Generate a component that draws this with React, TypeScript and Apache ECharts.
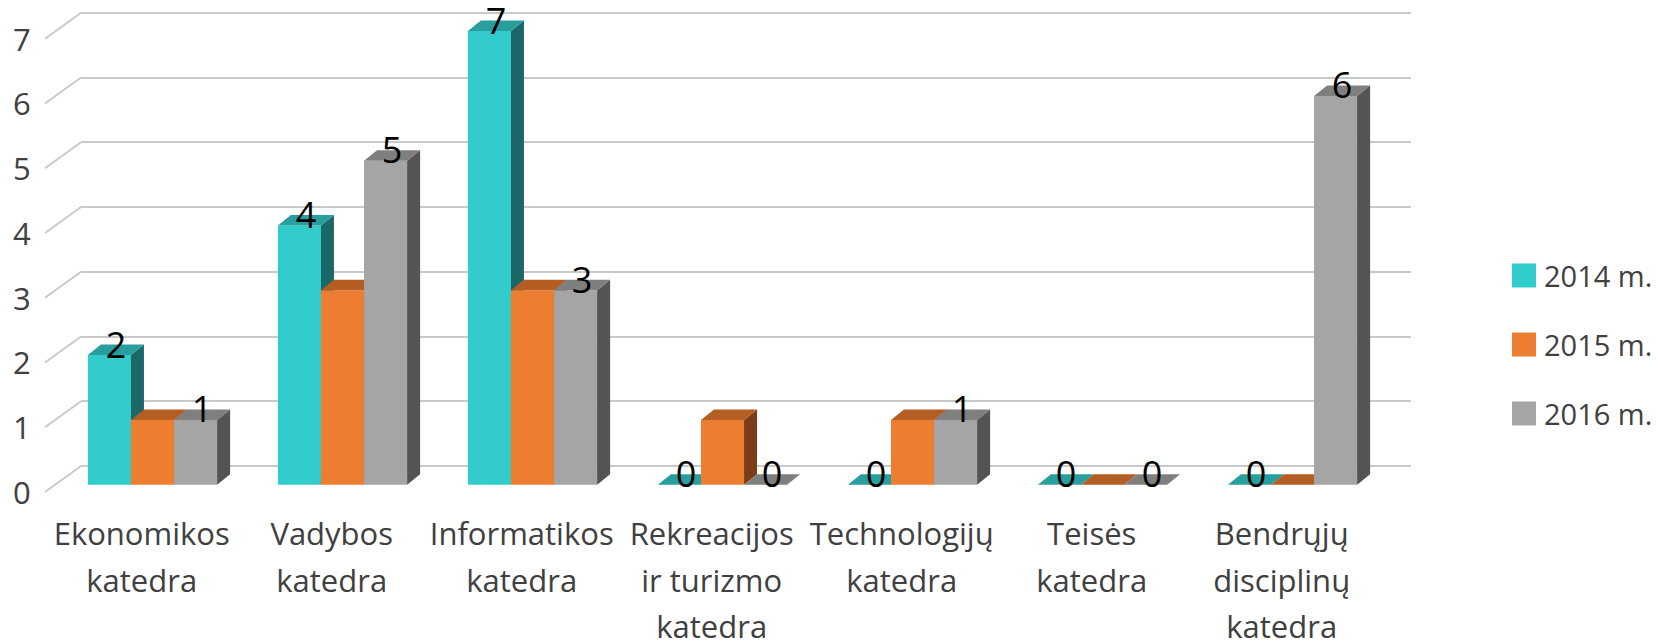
import React, { useEffect, useRef } from "react";
import * as echarts from "echarts";

const categories = [
  "Ekonomikos\nkatedra",
  "Vadybos\nkatedra",
  "Informatikos\nkatedra",
  "Rekreacijos\nir turizmo\nkatedra",
  "Technologijų\nkatedra",
  "Teisės\nkatedra",
  "Bendrųjų\ndisciplinų\nkatedra",
];
const seriesNames = ["2014 m.", "2015 m.", "2016 m."];
const values2014 = [2, 4, 7, 0, 0, 0, 0];
const values2015 = [1, 3, 3, 1, 1, 0, 0];
const values2016 = [1, 5, 3, 0, 1, 0, 6];
const tickValues = [0, 1, 2, 3, 4, 5, 6, 7];

const FONT = "'Open Sans', 'Noto Sans', sans-serif";
const TEXT_COLOR = "#404040";
const GRID_COLOR = "#C9C9C9";

// front, top, side colours per series
const palette = [
  { front: "#33CCCC", top: "#289E9E", side: "#1C6868" },
  { front: "#ED7D31", top: "#B45E23", side: "#7A3D17" },
  { front: "#A5A5A5", top: "#7F7F7F", side: "#545454" },
];
const showLabels = [true, false, true];

const DEPTH_X = 13;
const DEPTH_Y = -10.5;

function makeBarSeries(idx: number, values: number[]) {
  const col = palette[idx];
  return {
    type: "custom",
    name: seriesNames[idx],
    xAxisIndex: 1,
    yAxisIndex: 1,
    itemStyle: { color: col.front },
    encode: { x: 0, y: 1 },
    data: values.map((v, i) => [i, v]),
    z: 3,
    renderItem: (params: any, api: any) => {
      const ci = api.value(0);
      const v = api.value(1);
      const base = api.coord([ci, 0]);
      const top = api.coord([ci, v]);
      const band = api.size([1, 0])[0];
      const w = (band * 0.68) / 3;
      const x0 = base[0] - 1.5 * w + idx * w;
      const x1 = x0 + w;
      const yb = base[1];
      const yt = top[1];
      const children: any[] = [];
      if (v > 0) {
        children.push({
          type: "rect",
          shape: { x: x0, y: yt, width: w, height: yb - yt },
          style: { fill: col.front },
        });
        children.push({
          type: "polygon",
          shape: {
            points: [
              [x1, yt],
              [x1 + DEPTH_X, yt + DEPTH_Y],
              [x1 + DEPTH_X, yb + DEPTH_Y],
              [x1, yb],
            ],
          },
          style: { fill: col.side },
        });
      }
      children.push({
        type: "polygon",
        shape: {
          points: [
            [x0, yt],
            [x0 + DEPTH_X, yt + DEPTH_Y],
            [x1 + DEPTH_X, yt + DEPTH_Y],
            [x1, yt],
          ],
        },
        style: { fill: col.top },
      });
      if (showLabels[idx]) {
        children.push({
          type: "text",
          z2: 100,
          style: {
            text: String(v),
            x: (x0 + x1) / 2 + DEPTH_X / 2,
            y: yt - 11,
            align: "center",
            verticalAlign: "middle",
            fontSize: 36,
            lineHeight: 28,
            fontFamily: FONT,
            fill: "#000000",
          },
        });
      }
      return { type: "group", children };
    },
  };
}

export default function App() {
  const ref = useRef<HTMLDivElement>(null);
  useEffect(() => {
    if (!ref.current) return;
    const chart = echarts.init(ref.current, null, { renderer: "svg" });
    const option: any = {
      animation: false,
      backgroundColor: "#ffffff",
      grid: [
        { left: 81, top: 12.7, width: 1330, height: 453.3, outerBoundsMode: "none", containLabel: false },
        { left: 57.5, top: 31.1, width: 1330, height: 453.6, outerBoundsMode: "none", containLabel: false },
        { left: 46.7, top: 38.7, width: 1330, height: 453.3, outerBoundsMode: "none", containLabel: false },
      ],
      xAxis: [
        { gridIndex: 0, type: "value", min: 0, max: 1, show: false },
        { gridIndex: 1, type: "category", data: categories, show: false },
        {
          gridIndex: 2,
          type: "category",
          data: categories,
          axisLine: { show: false },
          axisTick: { show: false },
          axisLabel: {
            interval: 0,
            margin: 18,
            fontSize: 31,
            lineHeight: 46.5,
            fontFamily: FONT,
            color: TEXT_COLOR,
          },
        },
      ],
      yAxis: [
        {
          gridIndex: 0,
          type: "value",
          min: 0,
          max: 7,
          interval: 1,
          axisLabel: { show: false },
          axisLine: { show: false },
          axisTick: { show: false },
          splitLine: { show: true, lineStyle: { color: GRID_COLOR, width: 2 } },
        },
        { gridIndex: 1, type: "value", min: 0, max: 7, interval: 1, show: false },
        {
          gridIndex: 2,
          type: "value",
          min: 0,
          max: 7,
          interval: 1,
          axisLine: { show: false },
          axisTick: { show: false },
          splitLine: { show: false },
          axisLabel: {
            margin: 16,
            fontSize: 31,
            fontFamily: FONT,
            color: TEXT_COLOR,
          },
        },
      ],
      legend: {
        orient: "vertical",
        left: 1507,
        top: 256,
        itemWidth: 24,
        itemHeight: 24,
        itemGap: 40,
        icon: "rect",
        data: seriesNames,
        textStyle: {
          fontSize: 29,
          lineHeight: 24,
          fontFamily: FONT,
          color: TEXT_COLOR,
          padding: [0, 0, 0, 3],
        },
      },
      series: [
        {
          type: "custom",
          name: "depth",
          xAxisIndex: 0,
          yAxisIndex: 0,
          silent: true,
          z: 1,
          data: tickValues.map((v) => [0, v]),
          renderItem: (params: any, api: any) => {
            const p = api.coord([0, api.value(1)]);
            return {
              type: "line",
              shape: { x1: p[0], y1: p[1], x2: p[0] - 36, y2: p[1] + 26 },
              style: { stroke: GRID_COLOR, lineWidth: 2 },
            };
          },
        },
        makeBarSeries(0, values2014),
        makeBarSeries(1, values2015),
        makeBarSeries(2, values2016),
      ],
    };
    chart.setOption(option);
    return () => chart.dispose();
  }, []);
  return (
    <div
      ref={ref}
      style={{ position: "fixed", left: 0, top: 0, width: 1657, height: 641 }}
    />
  );
}
